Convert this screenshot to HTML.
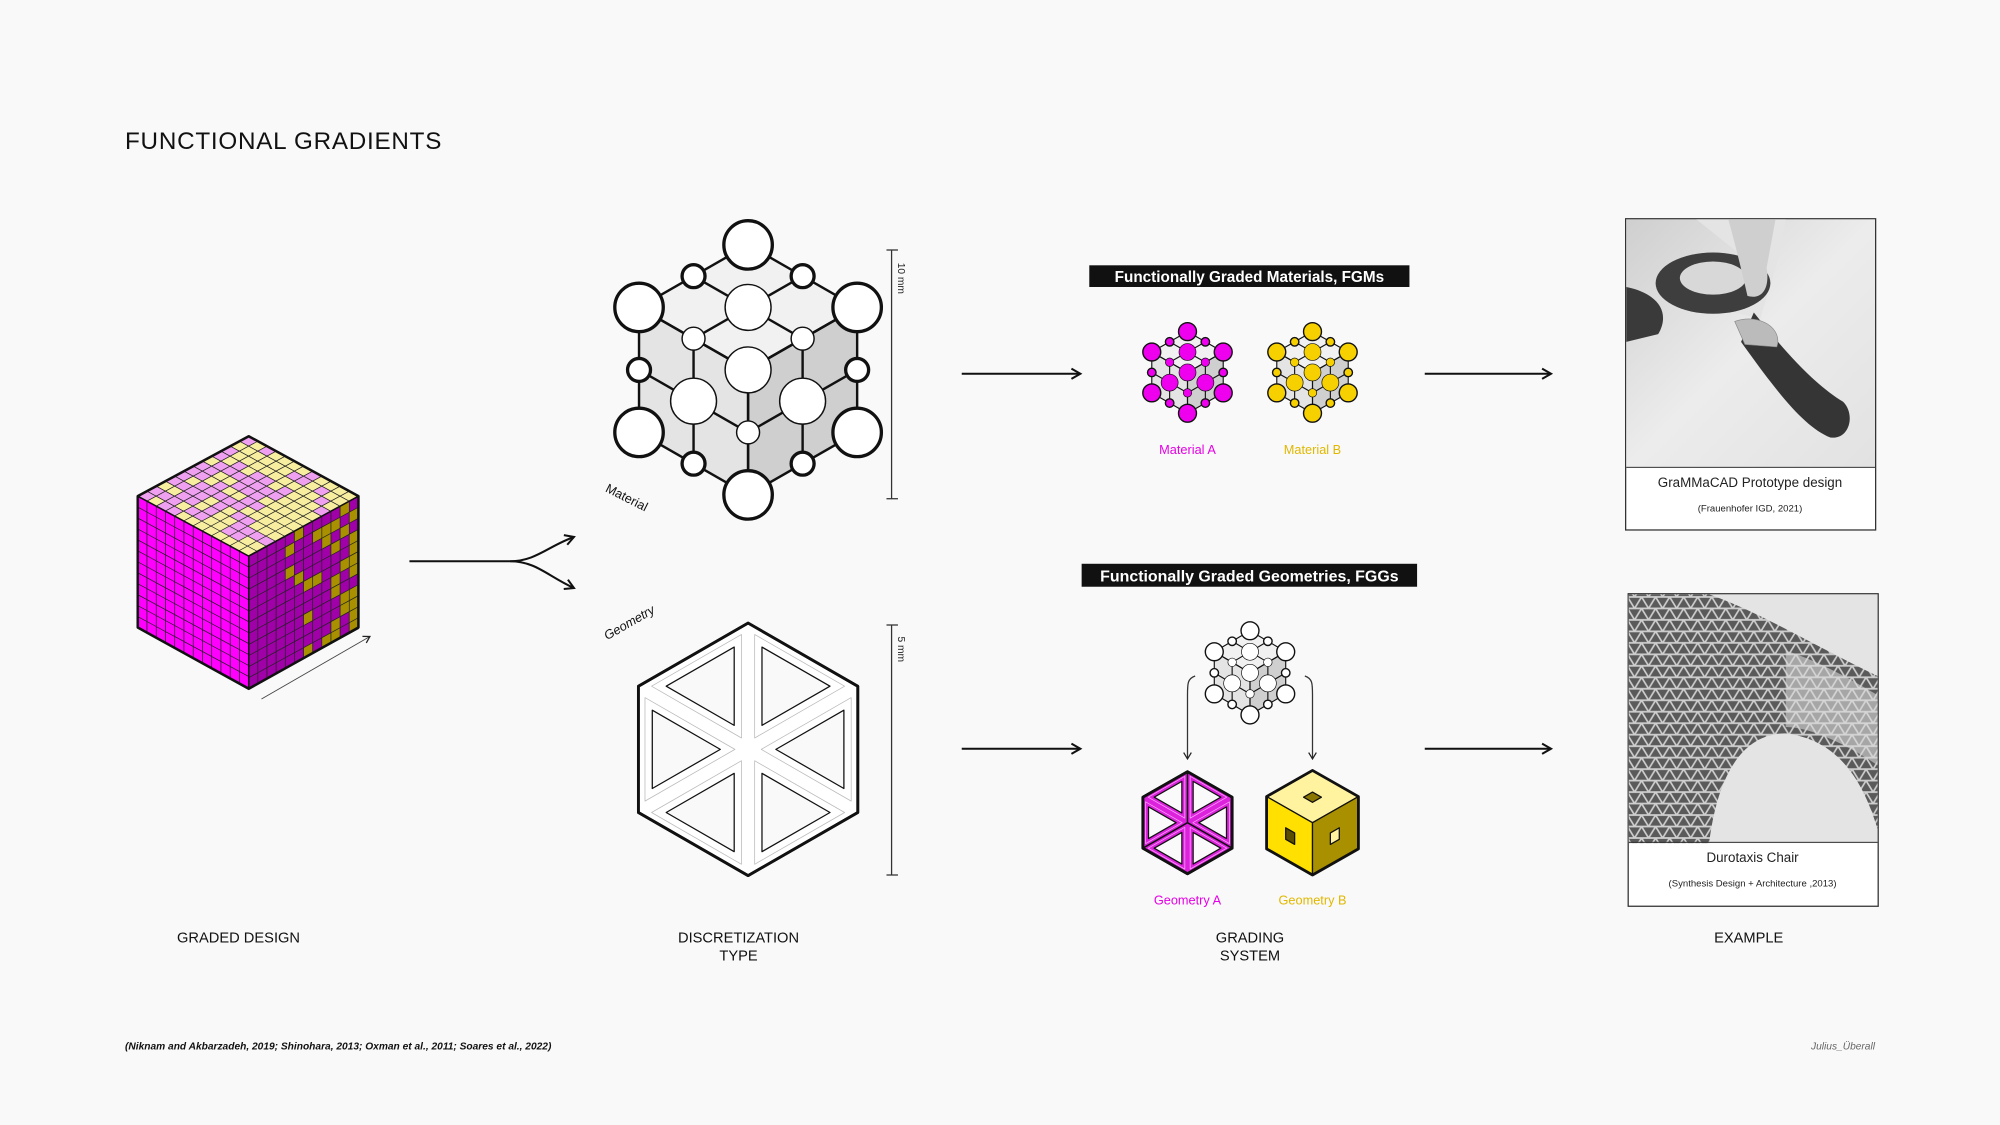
<!DOCTYPE html>
<html><head><meta charset="utf-8">
<style>
html,body{margin:0;padding:0;background:#f9f9f9;}
svg{display:block;}
text{font-family:"Liberation Sans",sans-serif;}
</style></head>
<body>
<svg id="s" width="2000" height="1125" viewBox="0 0 1568 882" xmlns="http://www.w3.org/2000/svg">
<defs>
<marker id="ah" markerWidth="10" markerHeight="10" refX="8" refY="5" orient="auto" markerUnits="userSpaceOnUse">
<path d="M1,1 L8,5 L1,9" fill="none" stroke="#111" stroke-width="1.6"/></marker>
<marker id="ahs" markerWidth="8" markerHeight="8" refX="6" refY="4" orient="auto" markerUnits="userSpaceOnUse">
<path d="M1,1 L6,4 L1,7" fill="none" stroke="#222" stroke-width="1"/></marker>
<pattern id="mesh" width="11" height="9" patternUnits="userSpaceOnUse">
<rect width="11" height="9" fill="#5a5a5a"/>
<path d="M0,0 L5.5,9 L11,0 M0,9 L11,9 M0,0 L11,0" stroke="#cfcfcf" stroke-width="1.3" fill="none"/>
</pattern>
<linearGradient id="g1" x1="0" y1="0" x2="1" y2="1"><stop offset="0" stop-color="#cfcfcf"/><stop offset="0.5" stop-color="#ececec"/><stop offset="1" stop-color="#e2e2e2"/></linearGradient>
</defs>
<rect width="1568" height="882" fill="#f9f9f9"/>
<text x="98" y="117" font-size="19" letter-spacing="0.6" fill="#111" font-weight="500">FUNCTIONAL GRADIENTS</text>
<g id="dyn"></g>

<line x1="205" y1="548" x2="290" y2="499" stroke="#444" stroke-width="0.7" marker-end="url(#ahs)"/>
<path d="M321,440 L400,440 C420,440 430,428 450,421" fill="none" stroke="#111" stroke-width="1.6" marker-end="url(#ah)"/>
<path d="M400,440 C420,440 430,452 450,461" fill="none" stroke="#111" stroke-width="1.6" marker-end="url(#ah)"/>

<g stroke="#333" stroke-width="1">
<line x1="699" y1="196" x2="699" y2="391"/><line x1="695" y1="196" x2="704" y2="196"/><line x1="695" y1="391" x2="704" y2="391"/>
<line x1="699" y1="490" x2="699" y2="686"/><line x1="695" y1="490" x2="704" y2="490"/><line x1="695" y1="686" x2="704" y2="686"/>
</g>
<text transform="translate(704,206) rotate(90)" font-size="8" fill="#222">10 mm</text>
<text transform="translate(704,499) rotate(90)" font-size="8" fill="#222">5 mm</text>
<text transform="translate(474,385) rotate(27)" font-size="10" fill="#111">Material</text>
<text transform="translate(476,502) rotate(-30)" font-size="10" font-style="italic" fill="#111">Geometry</text>

<g stroke="#111" stroke-width="1.6" marker-end="url(#ah)">
<line x1="754" y1="293" x2="847" y2="293"/><line x1="1117" y1="293" x2="1216" y2="293"/>
<line x1="754" y1="587" x2="847" y2="587"/><line x1="1117" y1="587" x2="1216" y2="587"/>
</g>

<rect x="854" y="208" width="251" height="17" fill="#111"/>
<text x="979.5" y="221" font-size="12" font-weight="bold" fill="#fff" text-anchor="middle">Functionally Graded Materials, FGMs</text>
<rect x="848" y="442" width="263" height="18" fill="#111"/>
<text x="979.5" y="456" font-size="12.5" font-weight="bold" fill="#fff" text-anchor="middle">Functionally Graded Geometries, FGGs</text>

<text x="931" y="356" font-size="10" fill="#e600e6" text-anchor="middle">Material A</text>
<text x="1029" y="356" font-size="10" fill="#e0b800" text-anchor="middle">Material B</text>
<text x="931" y="709" font-size="10" fill="#e600e6" text-anchor="middle">Geometry A</text>
<text x="1029" y="709" font-size="10" fill="#e0b800" text-anchor="middle">Geometry B</text>

<path d="M937,530 C931,532 931,536 931,545 L931,595" fill="none" stroke="#333" stroke-width="1" marker-end="url(#ahs)"/>
<path d="M1023,530 C1029,532 1029,536 1029,545 L1029,595" fill="none" stroke="#333" stroke-width="1" marker-end="url(#ahs)"/>

<rect x="1274.5" y="171.5" width="196" height="244" fill="#fff" stroke="#333" stroke-width="1"/>
<rect x="1275" y="172" width="195" height="194" fill="url(#g1)"/>
<path d="M1330,172 L1400,172 L1395,200 L1380,250 L1360,245 L1365,200 Z" fill="#e4e4e4"/>
<ellipse cx="1343" cy="222" rx="45" ry="24" fill="#3e3e3e"/>
<ellipse cx="1343" cy="218" rx="26" ry="13" fill="#d8d8d8"/>
<path d="M1275,225 C1300,230 1310,245 1300,262 L1275,268 Z" fill="#3a3a3a"/>
<path d="M1375,245 C1395,270 1420,300 1445,315 C1455,325 1450,345 1435,343 C1415,335 1395,310 1365,268 Z" fill="#353535"/>
<path d="M1360,252 C1380,245 1398,258 1393,272 L1368,270 Z" fill="#bbb" stroke="#888" stroke-width="0.5"/>
<path d="M1355,172 C1360,190 1365,210 1370,232 C1380,235 1388,228 1385,210 L1392,172 Z" fill="#cfcfcf"/>
<rect x="1275" y="366" width="195" height="0.8" fill="#333"/>
<text x="1372" y="382" font-size="10.5" fill="#222" text-anchor="middle">GraMMaCAD Prototype design</text>
<text x="1372" y="401" font-size="7.5" fill="#222" text-anchor="middle">(Frauenhofer IGD, 2021)</text>

<rect x="1276.5" y="465.5" width="196" height="245" fill="#fff" stroke="#333" stroke-width="1"/>
<rect x="1277" y="466" width="195" height="195" fill="#e4e4e4"/>
<path d="M1277,466 L1340,466 C1380,480 1420,505 1472,530 L1472,650 C1460,610 1440,580 1400,575 C1360,575 1345,620 1340,661 L1277,661 Z" fill="url(#mesh)"/>
<path d="M1400,510 C1430,520 1455,535 1472,545 L1472,600 C1450,585 1420,570 1400,570 Z" fill="#d8d8d8" opacity="0.6"/>
<rect x="1277" y="660" width="195" height="0.8" fill="#333"/>
<text x="1374" y="676" font-size="10.5" fill="#222" text-anchor="middle">Durotaxis Chair</text>
<text x="1374" y="695" font-size="7.5" fill="#222" text-anchor="middle">(Synthesis Design + Architecture  ,2013)</text>

<g font-size="11.5" fill="#111" text-anchor="middle">
<text x="187" y="739">GRADED DESIGN</text>
<text x="579" y="739">DISCRETIZATION</text><text x="579" y="753">TYPE</text>
<text x="980" y="739">GRADING</text><text x="980" y="753">SYSTEM</text>
<text x="1371" y="739">EXAMPLE</text>
</g>
<text x="98" y="823" font-size="8" font-weight="bold" font-style="italic" fill="#111">(Niknam and Akbarzadeh, 2019; Shinohara, 2013; Oxman et al., 2011; Soares et al., 2022)</text>
<text x="1470" y="823" font-size="8" font-style="italic" fill="#666" text-anchor="end">Julius_Überall</text>
</svg>
<script>
(function(){
var out=[];
function poly(pts,fill,stroke,sw){return '<polygon points="'+pts.map(function(p){return p[0].toFixed(2)+','+p[1].toFixed(2);}).join(' ')+'" fill="'+fill+'" stroke="'+(stroke||'none')+'" stroke-width="'+(sw||0)+'" stroke-linejoin="round"/>';}
var T=[195,342],L=[108,389],F=[195,436],R=[281,389],BL=[108,492],BF=[195,540],BR=[281,492];
var N=12;
function rnd(i,j,k){var x=Math.sin(i*12.9898+j*78.233+k*37.7)*43758.5453;return x-Math.floor(x);}
function P(o,u,v,a,b){return [o[0]+u[0]*a+v[0]*b,o[1]+u[1]*a+v[1]*b];}
function face(o,p1,p2,colf){
  var u=[(p1[0]-o[0])/N,(p1[1]-o[1])/N],v=[(p2[0]-o[0])/N,(p2[1]-o[1])/N];
  for(var i=0;i<N;i++)for(var j=0;j<N;j++){
    out.push(poly([P(o,u,v,i,j),P(o,u,v,i+1,j),P(o,u,v,i+1,j+1),P(o,u,v,i,j+1)],colf(i,j),'#222',0.5));
  }
}
face(T,R,L,function(i,j){var p=0.25+ (i/N)*0.5 - (j/N)*0.25; return rnd(i,j,1)<p+0.2?'#f7eea0':'#f0a0f0';});
face(L,F,BL,function(){return '#ff00ff';});
face(F,R,BF,function(i,j){var p=(i/N)*0.6; return rnd(i,j,2)<p?'#a89000':'#a000a8';});
out.push(poly([T,R,BR,BF,BL,L],'none','#111',2));
out.push('<polyline points="'+L.join(',')+' '+F.join(',')+' '+R.join(',')+'" fill="none" stroke="#111" stroke-width="1.2"/>');
out.push('<line x1="195" y1="436" x2="195" y2="540" stroke="#111" stroke-width="1.2"/>');

function lattice(cx,cy,a,h,nodeFill,sc,thick){
  function p(i,j,k){return [cx+(i-j)*a/2, cy+(i+j)*h/2-k*h];}
  out.push(poly([p(0,0,2),p(2,0,2),p(2,2,2),p(0,2,2)],'#f1f1f1'));
  out.push(poly([p(0,2,2),p(2,2,2),p(2,2,0),p(0,2,0)],'#e4e4e4'));
  out.push(poly([p(2,0,2),p(2,2,2),p(2,2,0),p(2,0,0)],'#cfcfcf'));
  var lw=1.6*sc+0.3;
  function ln(A,B){out.push('<line x1="'+A[0].toFixed(2)+'" y1="'+A[1].toFixed(2)+'" x2="'+B[0].toFixed(2)+'" y2="'+B[1].toFixed(2)+'" stroke="#111" stroke-width="'+lw+'"/>');}
  for(var t=0;t<=2;t++){
    ln(p(t,0,2),p(t,2,2)); ln(p(0,t,2),p(2,t,2));
    ln(p(0,2,t),p(2,2,t)); ln(p(t,2,0),p(t,2,2));
    ln(p(2,0,t),p(2,2,t)); ln(p(2,t,0),p(2,t,2));
  }
  var nodes=[];
  for(var i=0;i<=2;i++)for(var j=0;j<=2;j++)for(var k=0;k<=2;k++){
    if(!(i==2||j==2||k==2))continue;
    var ones=(i==1)+(j==1)+(k==1);
    if(ones>2)continue;
    var r = ones==0?19:(ones==2?18:9);
    var outer = ones==0 && !(i==2&&j==2&&k==2);
    if(i==2&&j==2&&k==2) r=18;
    var edge = (ones==1 && ((i!=1&&i!=2)||(j!=1&&j!=2)||(k!=1&&k!=2)));
    nodes.push({p:p(i,j,k),r:r*sc,o:outer||edge,d:i+j+k});
  }
  nodes.sort(function(A,B){return A.d-B.d;});
  nodes.forEach(function(n){
    out.push('<circle cx="'+n.p[0].toFixed(2)+'" cy="'+n.p[1].toFixed(2)+'" r="'+n.r.toFixed(2)+'" fill="'+nodeFill+'" stroke="#111" stroke-width="'+(n.o?thick:lw*0.6)+'"/>');
  });
}
lattice(586.5,290,85.5,49,'#fff',1,2.6);
var s2=0.37;
lattice(931,292,28,16,'#ee00ee',s2,1.1);
lattice(1029,292,28,16,'#f7d000',s2,1.1);
lattice(980,527.5,28,16.5,'#fff',s2,1.1);

function frame(cx,cy,a,h,barFill,holeFill,sw,inner){
  var V=[[cx,cy-2*h],[cx+a,cy-h],[cx+a,cy+h],[cx,cy+2*h],[cx-a,cy+h],[cx-a,cy-h]];
  var C=[cx,cy];
  out.push(poly(V,barFill,'#111',sw));
  for(var i=0;i<6;i++){
    var A=V[i],B=V[(i+1)%6];
    var g=[(A[0]+B[0]+C[0])/3,(A[1]+B[1]+C[1])/3];
    function sh(P,f){return [g[0]+(P[0]-g[0])*f,g[1]+(P[1]-g[1])*f];}
    out.push(poly([sh(C,0.82),sh(A,0.82),sh(B,0.82)],'none',inner,0.6));
    out.push(poly([sh(C,0.62),sh(A,0.62),sh(B,0.62)],holeFill,'#111',sw*0.45));
  }
  out.push(poly(V,'none','#111',sw));
}
frame(586.5,587.5,86,49.5,'#fff','#f9f9f9',2.2,'#bbb');
frame(931,645,35,20,'#dd22dd','#fafafa',2.2,'#f7a0f7');
out.push('<g stroke="#111" stroke-width="1.2" fill="none"><line x1="931" y1="645" x2="931" y2="605"/><line x1="931" y1="645" x2="896" y2="665"/><line x1="931" y1="645" x2="966" y2="665"/></g>');
(function(){
  var cx=1029,cy=645,a=36,h=20.5;
  var top=[cx,cy-2*h],ur=[cx+a,cy-h],lr=[cx+a,cy+h],bt=[cx,cy+2*h],ll=[cx-a,cy+h],ul=[cx-a,cy-h],C=[cx,cy];
  out.push(poly([top,ur,C,ul],'#fff3a0','#111',1));
  out.push(poly([ul,C,bt,ll],'#ffe000','#111',1));
  out.push(poly([C,ur,lr,bt],'#a89000','#111',1));
  out.push(poly([top,ur,lr,bt,ll,ul],'none','#111',2.2));
  out.push(poly([[cx,cy-24],[cx+7,cy-20],[cx,cy-16],[cx-7,cy-20]],'#8a7600','#111',1));
  out.push(poly([[cx-21,cy+4],[cx-14,cy+8],[cx-14,cy+17],[cx-21,cy+13]],'#5a4d00','#111',1));
  out.push(poly([[cx+14,cy+8],[cx+21,cy+4],[cx+21,cy+13],[cx+14,cy+17]],'#fff3a0','#111',1));
})();
document.getElementById('dyn').innerHTML=out.join('');
})();
</script>
</body></html>
